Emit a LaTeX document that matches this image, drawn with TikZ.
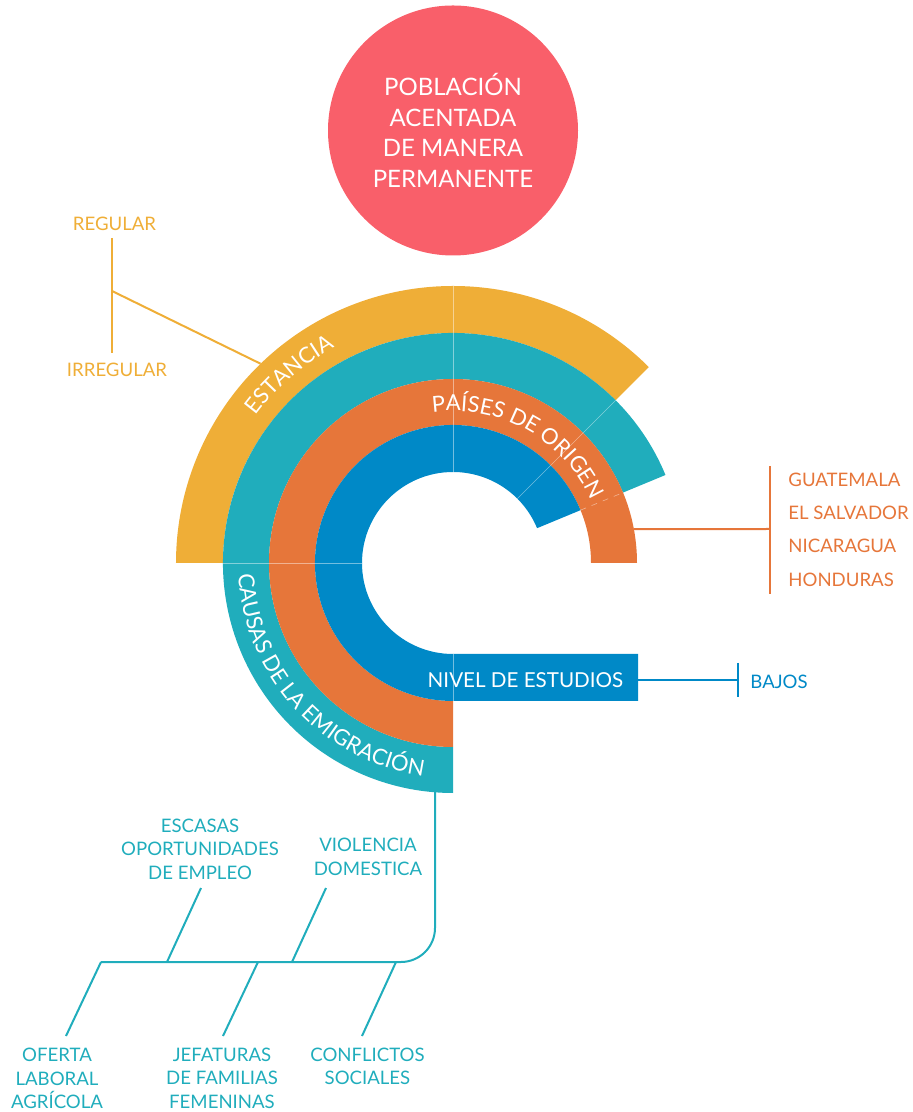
\documentclass[tikz,border=0pt]{standalone}
\usepackage{fontspec}
\setmainfont{Lato}
\usetikzlibrary{decorations.text,positioning}

\definecolor{poblacion}{HTML}{F95F6A}
\definecolor{estancia}{HTML}{EFAE37}
\definecolor{causas}{HTML}{20ADBC}
\definecolor{paises}{HTML}{E6763A}
\definecolor{nivel}{HTML}{0089C7}

\newcommand{\ringfont}{\fontsize{11}{13}\selectfont\color{white}}

\begin{document}
\begin{tikzpicture}[x=0.5pt,y=0.5pt,
    sidelabel/.style={font=\fontsize{9.3}{11.67}\selectfont, inner sep=0pt, align=center},
    seam/.style={white, opacity=0.45, line width=0.3pt},
    leg/.style={line width=1pt}]
  \useasboundingbox (-453,-549) rectangle (460,563);

  % the four rings
  \fill[estancia] (45:277) arc[start angle=45,end angle=180,radius=277] -- (180:230) arc[start angle=180,end angle=45,radius=230] -- cycle;
  \fill[causas] (22.5:230) arc[start angle=22.5,end angle=270,radius=230] -- (270:184) arc[start angle=270,end angle=22.5,radius=184] -- cycle;
  \fill[paises] (0:184) arc[start angle=0,end angle=270,radius=184] -- (270:138) arc[start angle=270,end angle=0,radius=138] -- cycle;
  \fill[nivel] (22.5:138) arc[start angle=22.5,end angle=270,radius=138] -- (185,-138) -- (185,-91) -- (270:91) arc[start angle=270,end angle=22.5,radius=91] -- cycle;
  \draw[seam] (90:91) -- (90:277);
  \draw[seam] (180:91) -- (180:230);
  \draw[seam] (45:91) -- (45:230);
  \draw[seam, dashed] (22.5:138) -- (22.5:184);
  \draw[seam] (0,-91) -- (0,-138);

  % ring texts
  \path[decorate, decoration={text along path, text align=center, text={|\ringfont|ESTANCIA}}]
    (171:246) arc[start angle=171,end angle=91,radius=246];
  \path[decorate, decoration={text along path, text align=center, text={|\ringfont|PAÍSES DE ORIGEN}}]
    (111:152) arc[start angle=111,end angle=11,radius=152];
  \path[decorate, decoration={text along path, text align=center, text={|\ringfont|CAUSAS DE LA EMIGRACIÓN}}]
    (172.5:215) arc[start angle=172.5,end angle=272.5,radius=215];
  \node[font=\fontsize{10.3}{13}\selectfont, text=white, inner sep=0pt, anchor=base] (nivel) at (72.5,-125) {NIVEL DE ESTUDIOS};

  \node[circle, fill=poblacion, minimum size=125pt, inner sep=0pt, text=white, align=center,
    font=\fontsize{12}{15.35}\selectfont] (poblacion) at (0,432.5) {POBLACIÓN\\ACENTADA\\DE MANERA\\PERMANENTE};

  % estancia
  \node[sidelabel, text=estancia] (regular) at (-338.5,339.5) {REGULAR};
  \node[sidelabel, text=estancia] (irregular) at (-336,193.5) {IRREGULAR};
  \coordinate (estanciaJoin) at (-341,272);
  \coordinate (estanciaEnd) at (134:277);
  \draw[estancia, leg] (-341,325) -- (-341,210);
  \draw[estancia, leg] (estanciaJoin) -- (estanciaEnd);

  % paises de origen
  \foreach \pais [count=\i] in {GUATEMALA, EL SALVADOR, NICARAGUA, HONDURAS}
    \node[sidelabel, text=paises, anchor=west] (pais\i) at (335,117-\i*33.4) {\pais};
  \coordinate (paisesEnd) at (10.6:184);
  \coordinate (paisesBar) at (317,34);
  \draw[paises, leg] (paisesEnd) -- (paisesBar);
  \draw[paises, leg] (317,97) -- (317,-31);

  % nivel de estudios
  \node[sidelabel, text=nivel, anchor=west] (bajos) at (297,-119) {BAJOS};
  \coordinate (nivelEnd) at (185,-117);
  \coordinate (bajosBar) at (285,-117);
  \draw[nivel, leg] (nivelEnd) -- (bajosBar);
  \draw[nivel, leg] (285,-100) -- (285,-134);

  % causas de la emigracion
  \node[sidelabel, text=causas] (escasas) at (-253,-286) {ESCASAS\\OPORTUNIDADES\\DE EMPLEO};
  \node[sidelabel, text=causas] (violencia) at (-85,-294) {VIOLENCIA\\DOMESTICA};
  \node[sidelabel, text=causas] (oferta) at (-396,-515.5) {OFERTA\\LABORAL\\AGRÍCOLA};
  \node[sidelabel, text=causas] (jefaturas) at (-231,-515) {JEFATURAS\\DE FAMILIAS\\FEMENINAS};
  \node[sidelabel, text=causas] (conflictos) at (-85.5,-503.5) {CONFLICTOS\\SOCIALES};
  \coordinate (causasEnd) at (-18,-229);
  \coordinate (spineLeft) at (-352,-399);
  \draw[causas, leg, rounded corners=17pt] (causasEnd) -- (-18,-399) -- (spineLeft);
  \draw[causas, leg] (-286,-399) -- (-252,-325);
  \draw[causas, leg] (-161,-399) -- (-127,-325);
  \draw[causas, leg] (spineLeft) -- (-387,-473);
  \draw[causas, leg] (-195,-399) -- (-230,-473);
  \draw[causas, leg] (-57,-399) -- (-91,-473);
\end{tikzpicture}
\end{document}
